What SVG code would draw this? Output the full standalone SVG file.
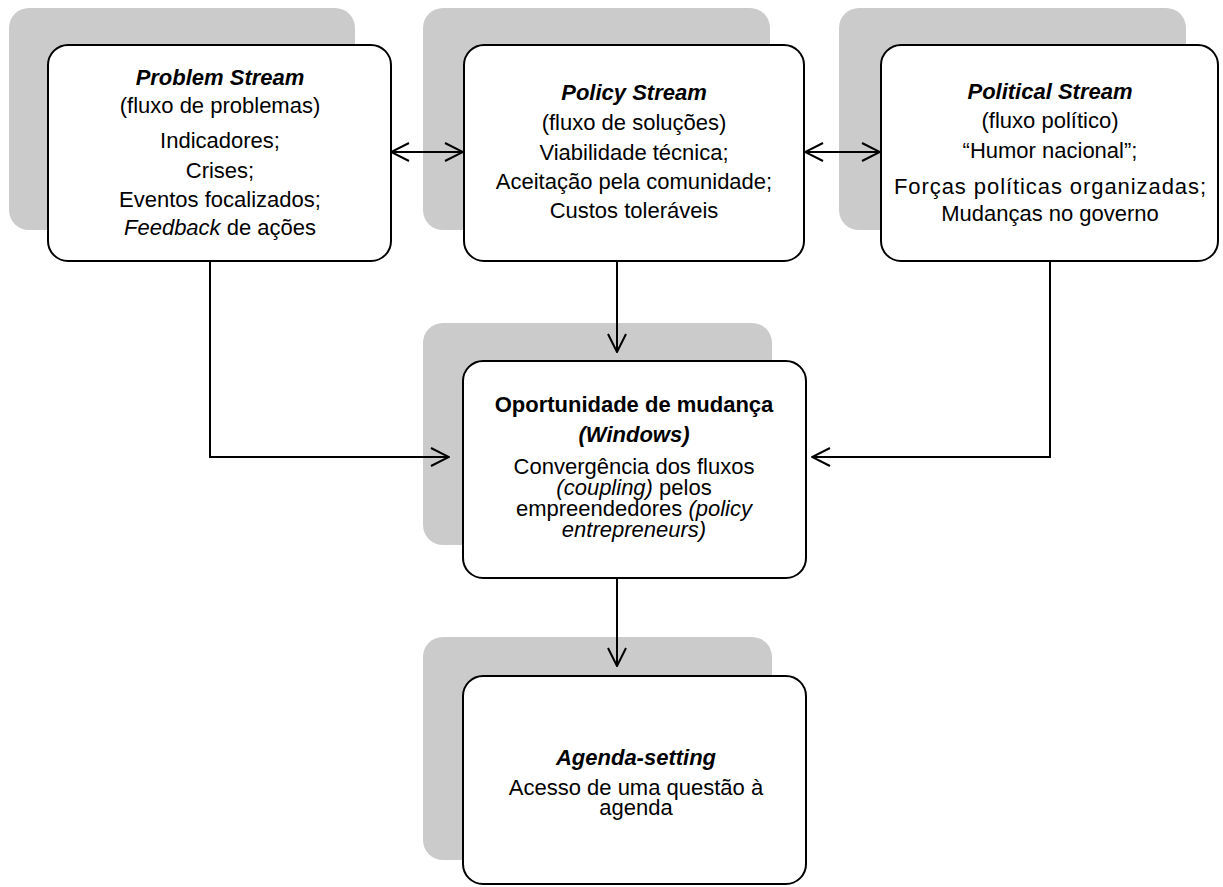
<svg xmlns="http://www.w3.org/2000/svg" width="1223" height="887" viewBox="0 0 1223 887">
<style>
.sh{fill:#cbcbcb;stroke:none}
.bx{fill:#ffffff;stroke:#000;stroke-width:2}
text{font-family:"Liberation Sans",Arial,sans-serif;font-size:22px;fill:#000;text-anchor:middle}
.b{font-weight:bold}
.i{font-style:italic}
.bi{font-weight:bold;font-style:italic}
.c{fill:none;stroke:#000;stroke-width:2}
</style>
<defs>
<marker id="ah" markerUnits="userSpaceOnUse" viewBox="0 0 20 20" refX="19" refY="10" markerWidth="20" markerHeight="20" orient="auto-start-reverse">
<path d="M1,1 L19,10 L1,19" fill="none" stroke="#000" stroke-width="2"/>
</marker>
</defs>
<rect width="1223" height="887" fill="#fff"/>
<g id="problem">
<rect class="sh" x="9" y="8" width="346" height="222" rx="20"/>
<rect class="bx" x="48" y="45" width="343" height="216" rx="20"/>
<text x="220" y="85" class="bi">Problem Stream</text>
<text x="220" y="113">(fluxo de problemas)</text>
<text x="220" y="148">Indicadores;</text>
<text x="220" y="178">Crises;</text>
<text x="220" y="207">Eventos focalizados;</text>
<text x="220" y="235"><tspan class="i">Feedback</tspan> de ações</text>
</g>
<g id="policy">
<rect class="sh" x="423" y="8" width="347" height="222" rx="20"/>
<rect class="bx" x="464" y="45" width="340" height="216" rx="20"/>
<text x="634" y="100" class="bi">Policy Stream</text>
<text x="634" y="130">(fluxo de soluções)</text>
<text x="634" y="160">Viabilidade técnica;</text>
<text x="634" y="189">Aceitação pela comunidade;</text>
<text x="634" y="218">Custos toleráveis</text>
</g>
<g id="political">
<rect class="sh" x="839" y="8" width="347" height="222" rx="20"/>
<rect class="bx" x="881" y="45" width="337" height="216" rx="20"/>
<text x="1050" y="99" class="bi">Political Stream</text>
<text x="1050" y="128">(fluxo político)</text>
<text x="1050" y="158">“Humor nacional”;</text>
<text x="1050" y="194" textLength="312" lengthAdjust="spacing">Forças políticas organizadas;</text>
<text x="1050" y="221">Mudanças no governo</text>
</g>
<g id="window">
<rect class="sh" x="423" y="323" width="349" height="222" rx="20"/>
<rect class="bx" x="463" y="361" width="343" height="217" rx="20"/>
<text x="634" y="412" class="b">Oportunidade de mudança</text>
<text x="634" y="442" class="bi">(Windows)</text>
<text x="634" y="474">Convergência dos fluxos</text>
<text x="634" y="495"><tspan class="i">(coupling)</tspan> pelos</text>
<text x="634" y="516">empreendedores <tspan class="i">(policy</tspan></text>
<text x="634" y="537" class="i">entrepreneurs)</text>
</g>
<g id="agenda">
<rect class="sh" x="423" y="637" width="349" height="223" rx="20"/>
<rect class="bx" x="463" y="676" width="343" height="208" rx="20"/>
<text x="636" y="765" class="bi">Agenda-setting</text>
<text x="636" y="795">Acesso de uma questão à</text>
<text x="636" y="815">agenda</text>
</g>
<g id="connectors">
<line class="c" x1="391" y1="152" x2="463" y2="152" marker-start="url(#ah)" marker-end="url(#ah)"/>
<line class="c" x1="805" y1="152" x2="880" y2="152" marker-start="url(#ah)" marker-end="url(#ah)"/>
<line class="c" x1="617" y1="261" x2="617" y2="352" marker-end="url(#ah)"/>
<polyline class="c" points="210,261 210,457 449,457" marker-end="url(#ah)"/>
<polyline class="c" points="1050,261 1050,457 812,457" marker-end="url(#ah)"/>
<line class="c" x1="617" y1="578" x2="617" y2="666" marker-end="url(#ah)"/>
</g>
</svg>
